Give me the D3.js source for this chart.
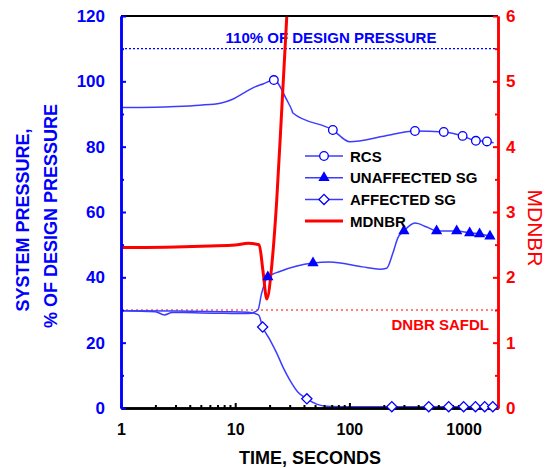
<!DOCTYPE html>
<html lang="en">
<head>
  <meta charset="UTF-8">
  <title>System Pressure and MDNBR</title>
  <style>
    body { margin: 0; background: #fff; }
    svg { display: block; font-family: Arial, "Liberation Sans", sans-serif; }
  </style>
</head>
<body>
<svg width="551" height="468"></svg>
<script src="https://d3js.org/d3.v7.min.js"></script>
<script>
  // ---- data ----
  const rcsTime = [1, 2, 3, 4.9, 7.4, 9.5, 11.7, 14.9, 17.5, 21.8, 28.3, 31.3, 32, 71.6, 100.8, 200, 375, 670, 980, 1280, 1600, 1830];
  const rcsPress = [92, 92.1, 92.3, 92.7, 93.3, 94.5, 96.3, 98.3, 99.2, 100.4, 94.3, 91.2, 90.3, 85.1, 81.5, 83.2, 84.8, 84.5, 83.3, 81.8, 81.6, 81.2];
  const rcsMarkTime = [21.8, 71.6, 375, 670, 980, 1280, 1600];

  const usgTime = [1, 2, 2.4, 2.8, 3.5, 5, 8, 13, 15.8, 17, 19.3, 24.6, 48, 67, 130, 185, 212, 240, 265, 300, 375, 475, 580, 870, 1130, 1380, 1700, 1830];
  const usgPress = [29.8, 29.5, 28.5, 29.2, 29.2, 29.1, 29, 28.9, 30, 35, 40.1, 41.8, 44.4, 44.7, 43.2, 42.5, 42.8, 47.4, 52, 54.2, 56.6, 55.4, 54.2, 54.2, 53.6, 53.3, 52.6, 52.3];
  const usgMarkTime = [19.3, 48, 300, 580, 870, 1130, 1380, 1700];

  const asgTime = [1, 3, 8, 13, 16, 17.4, 20.2, 23.1, 26.2, 30, 35.3, 42.4, 51.6, 63, 80, 100, 235, 495, 740, 1000, 1270, 1530, 1830];
  const asgPress = [29.8, 29.7, 29.5, 29.3, 28.5, 24.8, 20.8, 16.8, 12.5, 8.6, 4.9, 2.8, 1.2, 0.5, 0.4, 0.4, 0.4, 0.4, 0.4, 0.4, 0.4, 0.4, 0.4];
  const asgMarkTime = [17.4, 42.4, 235, 495, 740, 1000, 1270, 1530, 1800];

  const dnbrTime = [1, 3, 6, 10, 13, 16.2, 17.5, 18.9, 21, 23.1, 25.6, 28.5];
  const dnbrValue = [2.455, 2.465, 2.48, 2.495, 2.52, 2.5, 2.1, 1.67, 2.22, 3.18, 4.59, 6.1];

  const designLimit = 110;
  const safdl = 1.5;

  const xTicks = [1, 10, 100, 1000];
  const pressTicks = [0, 20, 40, 60, 80, 100, 120];
  const dnbrTicks = [0, 1, 2, 3, 4, 5, 6];

  const legendNames = ["RCS", "UNAFFECTED SG", "AFFECTED SG", "MDNBR"];

  // ---- layout ----
  const svg = d3.select("svg");
  const plotL = 121, plotR = 498, plotT = 16, plotB = 408;
  const BLUE = "#0000ff", LINE = "#3c3cff", RED = "#ff0000";

  const x = d3.scaleLog().domain([1, 2000]).range([plotL, plotR]);
  const y = d3.scaleLinear().domain([0, 120]).range([plotB, plotT]);
  const y2 = d3.scaleLinear().domain([0, 6]).range([plotB, plotT]);

  svg.append("defs").append("clipPath").attr("id", "plot")
    .append("rect").attr("x", plotL).attr("y", plotT)
    .attr("width", plotR - plotL).attr("height", plotB - plotT);

  // reference lines
  svg.append("line")
    .attr("x1", plotL).attr("x2", plotR)
    .attr("y1", y(designLimit)).attr("y2", y(designLimit))
    .attr("stroke", BLUE).attr("stroke-width", 1.2).attr("stroke-dasharray", "2,2");
  svg.append("line")
    .attr("x1", plotL).attr("x2", plotR)
    .attr("y1", y2(safdl)).attr("y2", y2(safdl))
    .attr("stroke", RED).attr("stroke-width", 1.2).attr("stroke-dasharray", "2,3");

  svg.append("text").attr("x", 331).attr("y", 43)
    .attr("text-anchor", "middle").attr("fill", BLUE)
    .attr("font-size", 15).attr("font-weight", "bold")
    .text("110% OF DESIGN PRESSURE");
  svg.append("text").attr("x", 489).attr("y", 330)
    .attr("text-anchor", "end").attr("fill", RED)
    .attr("font-size", 15).attr("font-weight", "bold")
    .text("DNBR SAFDL");

  // curves
  const curves = svg.append("g").attr("clip-path", "url(#plot)");
  const line = d3.line().curve(d3.curveMonotoneX);

  function drawCurve(ts, vs, scale, color, width) {
    curves.append("path")
      .attr("d", line(ts.map((t, i) => [x(t), scale(vs[i])])))
      .attr("fill", "none").attr("stroke", color).attr("stroke-width", width)
      .attr("stroke-linejoin", "round");
  }
  drawCurve(rcsTime, rcsPress, y, LINE, 1.5);
  drawCurve(usgTime, usgPress, y, LINE, 1.5);
  drawCurve(asgTime, asgPress, y, LINE, 1.5);
  drawCurve(dnbrTime, dnbrValue, y2, RED, 3);

  // axes
  const yAxis = d3.axisLeft(y).tickValues(pressTicks).tickSize(-5).tickSizeOuter(0).tickPadding(16);
  const yMinor = d3.axisLeft(y).tickValues(d3.range(10, 120, 20)).tickSize(-3).tickSizeOuter(0).tickFormat("");
  const y2Axis = d3.axisRight(y2).tickValues(dnbrTicks).tickFormat(d3.format("d")).tickSize(-5).tickSizeOuter(0).tickPadding(8);
  const y2Minor = d3.axisRight(y2).tickValues(d3.range(0.5, 6, 1)).tickSize(-3).tickSizeOuter(0).tickFormat("");
  const xMinorVals = [];
  [1, 10, 100, 1000].forEach(d => { for (let k = 2; k <= 9; k++) if (d * k < 2000) xMinorVals.push(d * k); });
  const xAxis = d3.axisBottom(x).tickValues(xTicks).tickFormat(d3.format("d")).tickSize(-5).tickSizeOuter(0).tickPadding(16);
  const xMinor = d3.axisBottom(x).tickValues(xMinorVals).tickSize(-3).tickSizeOuter(0).tickFormat("");

  svg.append("line").attr("x1", plotL).attr("x2", plotR).attr("y1", plotT).attr("y2", plotT)
    .attr("stroke", "#000").attr("stroke-width", 2);

  function styleAxis(g, color, size) {
    g.select(".domain").attr("stroke", color).attr("stroke-width", 2.5);
    g.selectAll(".tick line").attr("stroke", color).attr("stroke-width", 2);
    g.selectAll(".tick text").attr("fill", color).attr("font-size", size)
      .attr("font-weight", "bold").attr("font-family", "Arial, 'Liberation Sans', sans-serif");
  }
  svg.append("g").attr("transform", `translate(0,${plotB})`).call(xMinor).call(styleAxis, "#000", 16);
  svg.append("g").attr("transform", `translate(0,${plotB})`).call(xAxis).call(styleAxis, "#000", 16);
  svg.append("g").attr("transform", `translate(${plotL},0)`).call(yMinor).call(styleAxis, BLUE, 17);
  svg.append("g").attr("transform", `translate(${plotL},0)`).call(yAxis).call(styleAxis, BLUE, 17);
  svg.append("g").attr("transform", `translate(${plotR},0)`).call(y2Minor).call(styleAxis, RED, 17);
  svg.append("g").attr("transform", `translate(${plotR},0)`).call(y2Axis).call(styleAxis, RED, 17);

  // markers
  const circleAt = (g, cx, cy) => g.append("circle").attr("cx", cx).attr("cy", cy).attr("r", 4.3)
    .attr("fill", "#fff").attr("stroke", BLUE).attr("stroke-width", 1.3);
  const triAt = (g, cx, cy) => g.append("path").attr("d", d3.symbol(d3.symbolTriangle, 55)())
    .attr("transform", `translate(${cx},${cy})`).attr("fill", BLUE);
  const diaAt = (g, cx, cy) => g.append("path").attr("d", d3.symbol(d3.symbolSquare, 52)())
    .attr("transform", `translate(${cx},${cy}) rotate(45)`)
    .attr("fill", "#fff").attr("stroke", BLUE).attr("stroke-width", 1.3);

  const interp = (ts, vs, t) => {
    const xs = ts.map(d => x(d));
    const px = x(t);
    let i = d3.bisectLeft(xs, px);
    if (i <= 0) return vs[0];
    if (i >= xs.length) return vs[vs.length - 1];
    const f = (px - xs[i - 1]) / (xs[i] - xs[i - 1]);
    return vs[i - 1] + f * (vs[i] - vs[i - 1]);
  };
  const marks = svg.append("g");
  rcsMarkTime.forEach(t => circleAt(marks, x(t), y(interp(rcsTime, rcsPress, t))));
  usgMarkTime.forEach(t => triAt(marks, x(t), y(interp(usgTime, usgPress, t))));
  asgMarkTime.forEach(t => diaAt(marks, x(t), y(interp(asgTime, asgPress, t))));

  // legend
  const lg = svg.append("g");
  legendNames.forEach((name, i) => {
    const ly = 156 + i * 21.7;
    lg.append("line").attr("x1", 305).attr("x2", 343).attr("y1", ly).attr("y2", ly)
      .attr("stroke", i === 3 ? RED : LINE).attr("stroke-width", i === 3 ? 3 : 1.5);
    if (i === 0) circleAt(lg, 324, ly);
    if (i === 1) triAt(lg, 324, ly);
    if (i === 2) diaAt(lg, 324, ly);
    lg.append("text").attr("x", 350).attr("y", ly + 5.5)
      .attr("font-size", 15).attr("font-weight", "bold").attr("fill", "#000").text(name);
  });

  // axis titles
  svg.append("text").attr("x", 310).attr("y", 464).attr("text-anchor", "middle")
    .attr("font-size", 18).attr("font-weight", "bold").attr("fill", "#000")
    .text("TIME, SECONDS");
  svg.append("text").attr("transform", "translate(29,220) rotate(-90)").attr("text-anchor", "middle")
    .attr("font-size", 18).attr("font-weight", "bold").attr("fill", BLUE)
    .text("SYSTEM PRESSURE,");
  svg.append("text").attr("transform", "translate(57,216) rotate(-90)").attr("text-anchor", "middle")
    .attr("font-size", 18).attr("font-weight", "bold").attr("fill", BLUE)
    .text("% OF DESIGN PRESSURE");
  svg.append("text").attr("transform", "translate(528,228) rotate(90)").attr("text-anchor", "middle")
    .attr("font-size", 21).attr("fill", RED)
    .text("MDNBR");
</script>
</body>
</html>
